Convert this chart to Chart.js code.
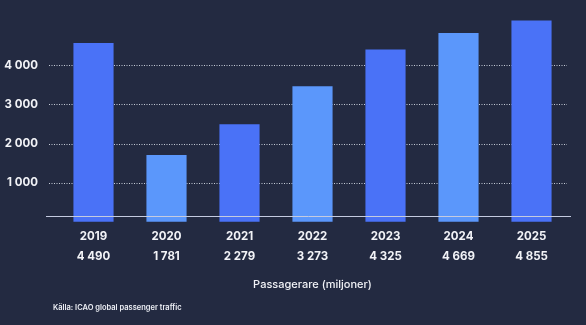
<!DOCTYPE html>
<html>
<head>
<meta charset="utf-8">
<script src="https://cdn.jsdelivr.net/npm/chart.js@4/dist/chart.umd.min.js"></script>
<style>
html,body{margin:0;padding:0;background:#232a41;}
#wrap{width:586px;height:325px;position:relative;}
</style>
</head>
<body>
<div id="wrap"><canvas id="c" width="586" height="325"></canvas></div>
<script>
const years = ['2019','2020','2021','2022','2023','2024','2025'];
const valueLabels = ['4 490','1 781','2 279','3 273','4 325','4 669','4 855'];
const barValues = [4570, 1705, 2495, 3465, 4405, 4825, 5150];
const yTicks = [1000, 2000, 3000, 4000];
const yTickLabels = ['1 000','2 000','3 000','4 000'];
const axisTitle = 'Passagerare (miljoner)';
const sourceText = 'Källa: ICAO global passenger traffic';

const DARK = '#4a72f7';
const LIGHT = '#5b97fb';
const FONT = 'Inter, "Noto Sans", sans-serif';

const decor = {
  id: 'decor',
  beforeDatasetsDraw(chart) {
    const ctx = chart.ctx, y = chart.scales.y;
    ctx.save();
    ctx.strokeStyle = 'rgba(225,230,240,0.85)';
    ctx.lineWidth = 1;
    ctx.setLineDash([1, 1.5]);
    yTicks.forEach(v => {
      const py = Math.round(y.getPixelForValue(v)) + 0.5;
      ctx.beginPath(); ctx.moveTo(49, py); ctx.lineTo(567, py); ctx.stroke();
    });
    ctx.restore();
  },
  afterDatasetsDraw(chart) {
    const ctx = chart.ctx, y = chart.scales.y;
    ctx.save();
    ctx.strokeStyle = '#c4cbe0';
    ctx.lineWidth = 1;
    const py = Math.round(y.getPixelForValue(y.min)) + 0.5;
    ctx.beginPath(); ctx.moveTo(46, py); ctx.lineTo(571, py); ctx.stroke();
    ctx.fillStyle = '#eef0f6';
    ctx.font = '600 7.5px ' + FONT;
    ctx.textBaseline = 'middle';
    ctx.textAlign = 'left';
    ctx.fillText(sourceText, 53, 308);
    ctx.restore();
  }
};

new Chart(document.getElementById('c'), {
  type: 'bar',
  data: {
    labels: years.map((y, i) => [y, valueLabels[i]]),
    datasets: [{
      data: barValues,
      backgroundColor: years.map((_, i) => i % 2 === 0 ? DARK : LIGHT),
      borderWidth: 0,
      barPercentage: 0.55,
      categoryPercentage: 1.0,
      clip: false
    }]
  },
  options: {
    responsive: false,
    animation: false,
    events: [],
    layout: { padding: { top: 0, right: 18, bottom: 0, left: 0 } },
    plugins: { legend: { display: false }, tooltip: { enabled: false } },
    scales: {
      x: {
        grid: { display: false, drawTicks: false },
        border: { display: false },
        ticks: {
          color: '#f2f3f7',
          font: { family: FONT, size: 11.5, weight: 700, lineHeight: 1.7 },
          padding: 11,
          maxRotation: 0
        },
        title: {
          display: true,
          text: axisTitle,
          color: '#f2f3f7',
          font: { family: FONT, size: 11, weight: 500, lineHeight: 1.2 },
          padding: { top: 4, bottom: 34 }
        },
        afterFit(scale) { scale.height = 109; }
      },
      y: {
        min: 145,
        max: 5009,
        grid: { display: false, drawTicks: false },
        border: { display: false },
        afterBuildTicks(scale) { scale.ticks = yTicks.map(v => ({ value: v })); },
        ticks: {
          color: '#f2f3f7',
          font: { family: FONT, size: 11.5, weight: 700 },
          padding: 19,
          callback: (v) => yTickLabels[yTicks.indexOf(v)] ?? ''
        },
        afterFit(scale) { scale.width = 57; }
      }
    }
  },
  plugins: [decor]
});
</script>
</body>
</html>
